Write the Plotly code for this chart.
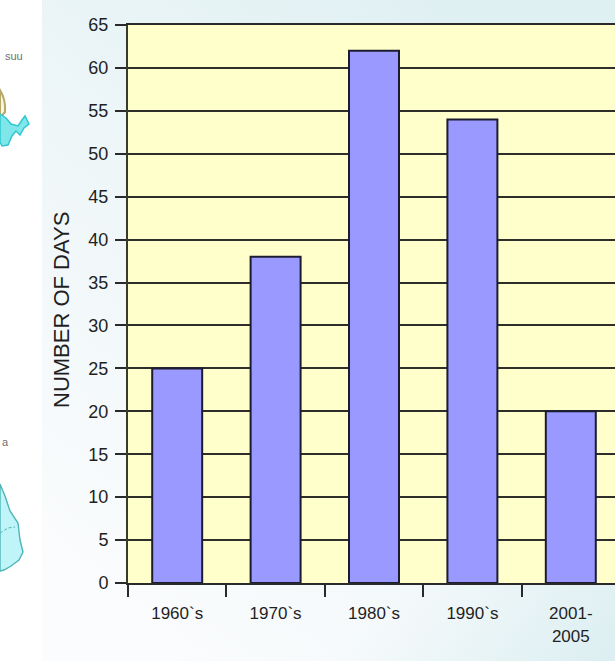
import base64
import plotly.graph_objects as go

# Days per period
periods = ["1960`s", "1970`s", "1980`s", "1990`s", "2001-<br>2005"]
days = [25, 38, 62, 54, 20]
y_ticks = list(range(0, 70, 5))

WIDTH, HEIGHT = 615, 661
LEFT, TOP, BOTTOM = 128, 25, 78
plot_w = WIDTH - LEFT
plot_h = HEIGHT - TOP - BOTTOM
CATEGORY_PX = 98.4

# Slide backdrop: pale blue wash and the edges of the neighbouring maps
backdrop = f'''<svg xmlns="http://www.w3.org/2000/svg" width="{WIDTH}" height="{HEIGHT}">
<defs>
<linearGradient id="wash" x1="0.1" y1="0.95" x2="0.75" y2="0">
<stop offset="0" stop-color="#fbfcfd"/><stop offset="0.45" stop-color="#f0f7f9"/><stop offset="1" stop-color="#dff0f2"/>
</linearGradient>
<linearGradient id="edge" x1="0" y1="0" x2="1" y2="1">
<stop offset="0.55" stop-color="#dff0f2" stop-opacity="0"/><stop offset="1" stop-color="#dbeef1" stop-opacity="1"/>
</linearGradient>
<filter id="soft"><feGaussianBlur stdDeviation="0.6"/></filter>
</defs>
<rect x="42" width="{WIDTH-42}" height="{HEIGHT}" fill="url(#wash)"/>
<rect x="300" y="350" width="{WIDTH-300}" height="{HEIGHT-350}" fill="url(#edge)"/>
<rect width="42" height="{HEIGHT}" fill="#ffffff"/>
<g filter="url(#soft)">
<path d="M0 90 Q6 100 5 112 L0 118 Z" fill="#f7f8e4" stroke="#b6a866" stroke-width="2"/>
<path d="M0 114 L6 118 L11 124 L18 126 L22 120 L25 116 L29 124 L24 128 L20 135 L16 131 L12 136 L8 145 L2 146 L0 142 Z"
 fill="#7fe6ea" stroke="#33c6d0" stroke-width="1.5"/>
<path d="M0 484 L5 496 L10 511 L18 523 L20 540 L23 552 L19 560 L11 566 L4 570 L0 571 Z"
 fill="#bff5f8" stroke="#4fb5b8" stroke-width="1.4"/>
<path d="M0 533 L8 528 L15 527" fill="none" stroke="#4fb5b8" stroke-width="1" stroke-dasharray="3 2"/>
</g>
</svg>'''
backdrop_uri = "data:image/svg+xml;base64," + base64.b64encode(backdrop.encode()).decode()

fig = go.Figure(
    go.Bar(
        x=periods,
        y=days,
        width=0.508,
        marker=dict(color="#9999ff", line=dict(color="#1c1c30", width=2)),
        hoverinfo="x+y",
    )
)

font = dict(family="Liberation Sans, Arial", color="#1f1f1f")

fig.update_layout(
    width=WIDTH,
    height=HEIGHT,
    autosize=False,
    margin=dict(l=LEFT, r=0, t=TOP, b=BOTTOM, pad=0),
    paper_bgcolor="#ffffff",
    plot_bgcolor="#ffffcc",
    showlegend=False,
    font=dict(size=17, **font),
    images=[
        dict(
            source=backdrop_uri,
            xref="paper",
            yref="paper",
            x=-LEFT / plot_w,
            y=1 + TOP / plot_h,
            sizex=WIDTH / plot_w,
            sizey=HEIGHT / plot_h,
            xanchor="left",
            yanchor="top",
            sizing="stretch",
            layer="below",
        )
    ],
    # Chart area fill sits on top of the backdrop, under the gridlines
    shapes=[
        dict(type="rect", xref="paper", yref="paper", x0=0, x1=1, y0=0, y1=1,
             fillcolor="#ffffcc", line=dict(width=0), layer="below")
    ],
    annotations=[
        dict(text="NUMBER OF DAYS", textangle=-90, x=(61 - LEFT) / plot_w, y=1 - (310 - TOP) / plot_h,
             xref="paper", yref="paper", xanchor="center", yanchor="middle", showarrow=False,
             font=dict(size=22, **font)),
        dict(text="suu", x=-LEFT / plot_w, y=1 - (56 - TOP) / plot_h, xref="paper", yref="paper",
             xanchor="left", yanchor="middle", showarrow=False, font=dict(size=11, color="#6f6f6f"),
             xshift=3),
        dict(text="a", x=-LEFT / plot_w, y=1 - (442 - TOP) / plot_h, xref="paper", yref="paper",
             xanchor="left", yanchor="middle", showarrow=False, font=dict(size=11, color="#6f6f6f")),
    ],
)

fig.update_xaxes(
    type="category",
    tickson="boundaries",
    range=[-0.5, -0.5 + plot_w / CATEGORY_PX],
    ticks="outside",
    ticklen=12,
    tickwidth=2,
    tickcolor="#2a2a2a",
    showline=True,
    mirror=True,  # closes the chart area with the rule at 65
    linecolor="#2a2a2a",
    linewidth=2,
    showgrid=False,
    tickangle=0,
    ticklabelstandoff=14,
    tickfont=dict(size=17, **font),
)

fig.update_yaxes(
    range=[0, 65],
    tickmode="array",
    tickvals=y_ticks,
    ticktext=[str(v) for v in y_ticks],
    ticks="outside",
    ticklen=11,
    tickwidth=2,
    tickcolor="#2a2a2a",
    showline=True,
    linecolor="#3a3a2a",
    linewidth=2,
    showgrid=True,
    gridcolor="#2e2e2a",
    gridwidth=2,
    zeroline=False,
    ticklabelstandoff=3,
    tickfont=dict(size=18, **font),
)

fig.write_html("out.html", config={"displayModeBar": False})
